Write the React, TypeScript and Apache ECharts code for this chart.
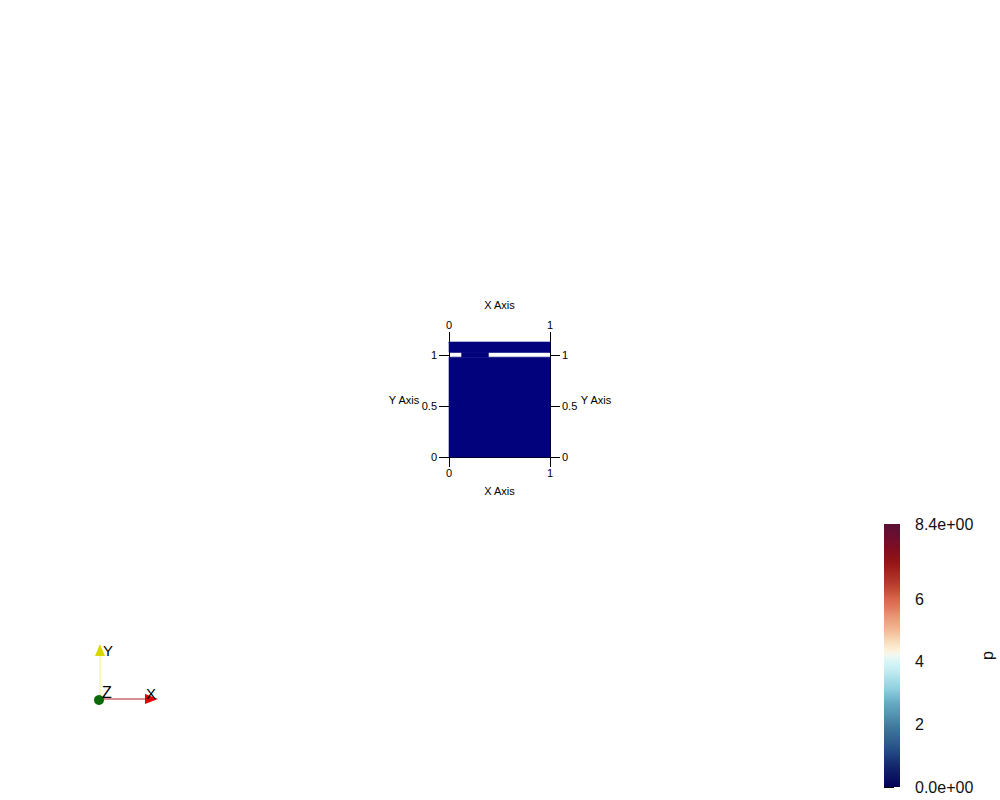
import React, { useEffect, useRef } from "react";
import * as echarts from "echarts";

// ---- Data ----
// Domain cells: [x0, x1, y0, y1, p]
const cellX0 = [0, 0.125, 0];
const cellX1 = [1, 0.39, 1];
const cellY0 = [0, 0.977, 1.023];
const cellY1 = [0.977, 1.023, 1.125];
const cellP = [0, 0, 0];

const xTicks = [0, 1];
const yTicks = [0, 0.5, 1];
const pMin = 0;
const pMax = 8.4;
const pTicks = [0, 2, 4, 6, 8.4];

// Cool to Warm (Extended) colour map stops: [position, colour]
const cmapStops: [number, string][] = [
  [0, "#000059"],
  [0.03125, "#0a1061"],
  [0.0625, "#101e69"],
  [0.09375, "#172f73"],
  [0.125, "#204380"],
  [0.15625, "#29568a"],
  [0.1875, "#336591"],
  [0.21875, "#3d7499"],
  [0.25, "#4985a6"],
  [0.28125, "#5697b3"],
  [0.3125, "#63a7bf"],
  [0.34375, "#77bcd1"],
  [0.375, "#92d1e0"],
  [0.40625, "#a7dde8"],
  [0.4375, "#c0eaf0"],
  [0.46875, "#d2f4f7"],
  [0.5, "#f0f8f2"],
  [0.52, "#fcf1d9"],
  [0.54, "#fae5c8"],
  [0.5625, "#f7d5b2"],
  [0.59375, "#f2bb96"],
  [0.625, "#eda682"],
  [0.65625, "#e8906f"],
  [0.6875, "#e0755a"],
  [0.71875, "#d66349"],
  [0.75, "#c24b36"],
  [0.78125, "#b3362b"],
  [0.8125, "#a62821"],
  [0.84375, "#991818"],
  [0.875, "#8c1119"],
  [0.90625, "#800d20"],
  [0.9375, "#730e2c"],
  [0.96875, "#660e31"],
  [1, "#591236"],
];

const DOMAIN_COLOR = "#02027c";
const FONT = "Liberation Sans";

export default function App() {
  const ref = useRef<HTMLDivElement>(null);

  useEffect(() => {
    if (!ref.current) return;
    const chart = echarts.init(ref.current, null, { renderer: "svg" });

    const cells = cellX0.map((x0, i) => [x0, cellX1[i], cellY0[i], cellY1[i], cellP[i]]);

    const axisCommon = {
      type: "value" as const,
      gridIndex: 0,
      nameMoveOverlap: false,
      splitLine: { show: false },
      axisLine: { show: true, onZero: false, lineStyle: { color: "#000", width: 1 } },
      axisTick: { show: true, length: 10, lineStyle: { color: "#000", width: 1 } },
      nameTextStyle: { fontFamily: FONT, fontSize: 11, color: "#000", align: "center", verticalAlign: "middle" },
    };

    const labelStyle = { fontFamily: FONT, fontSize: 11, color: "#000" };

    const gradient = new echarts.graphic.LinearGradient(
      0,
      1,
      0,
      0,
      cmapStops.map(([offset, color]) => ({ offset, color }))
    );

    const option: any = {
      animation: false,
      backgroundColor: "#ffffff",
      grid: [
        { left: 449, top: 342, width: 101, height: 115 },
        { left: 884, top: 524, width: 16, height: 263 },
      ],
      xAxis: [
        {
          ...axisCommon,
          position: "bottom",
          min: 0,
          max: 1,
          name: "X Axis",
          nameLocation: "middle",
          nameGap: 34,
          axisTick: { ...axisCommon.axisTick, customValues: xTicks },
          axisLabel: { ...labelStyle, margin: 10, customValues: xTicks, formatter: (v: number) => String(v) },
        },
        {
          ...axisCommon,
          position: "top",
          min: 0,
          max: 1,
          name: "X Axis",
          nameLocation: "middle",
          nameGap: 37,
          axisTick: { ...axisCommon.axisTick, customValues: xTicks },
          axisLabel: { ...labelStyle, margin: 12, customValues: xTicks, formatter: (v: number) => String(v) },
        },
        {
          type: "value",
          gridIndex: 1,
          min: 0,
          max: 1,
          show: false,
        },
      ],
      yAxis: [
        {
          ...axisCommon,
          position: "left",
          min: 0,
          max: 1.125,
          name: "Y Axis",
          nameLocation: "middle",
          nameRotate: 0,
          nameGap: 45,
          axisTick: { ...axisCommon.axisTick, customValues: yTicks },
          axisLabel: { ...labelStyle, margin: 12, customValues: yTicks, formatter: (v: number) => String(v) },
        },
        {
          ...axisCommon,
          position: "right",
          min: 0,
          max: 1.125,
          name: "Y Axis",
          nameLocation: "middle",
          nameRotate: 0,
          nameGap: 46,
          axisTick: { ...axisCommon.axisTick, customValues: yTicks },
          axisLabel: { ...labelStyle, margin: 12, customValues: yTicks, formatter: (v: number) => String(v) },
        },
        {
          type: "value",
          gridIndex: 1,
          position: "right",
          min: pMin,
          max: pMax,
          nameMoveOverlap: false,
          splitLine: { show: false },
          axisLine: { show: false },
          axisTick: { show: true, length: 10, customValues: pTicks, lineStyle: { color: "#000", width: 1 } },
          axisLabel: {
            fontFamily: FONT,
            fontSize: 16,
            color: "#111",
            margin: 15,
            customValues: pTicks,
            formatter: (v: number) => (v === pMin || v === pMax ? v.toExponential(1).replace(/e([+-])(\d)$/, "e$10$2") : String(v)),
          },
          name: "p",
          nameLocation: "middle",
          nameRotate: 90,
          nameGap: 87,
          nameTextStyle: { fontFamily: FONT, fontSize: 16, color: "#111", align: "center", verticalAlign: "middle" },
        },
      ],
      series: [
        {
          type: "custom",
          xAxisIndex: 0,
          yAxisIndex: 0,
          data: cells,
          encode: { x: [0, 1], y: [2, 3] },
          renderItem: (params: any, api: any) => {
            const a = api.coord([api.value(0), api.value(3)]);
            const b = api.coord([api.value(1), api.value(2)]);
            return {
              type: "rect",
              shape: { x: a[0], y: a[1], width: b[0] - a[0], height: b[1] - a[1] },
              style: { fill: DOMAIN_COLOR, stroke: DOMAIN_COLOR, lineWidth: 0.6 },
            };
          },
          z: 1,
        },
        {
          type: "custom",
          xAxisIndex: 2,
          yAxisIndex: 2,
          data: [[0, 1, pMin, pMax]],
          encode: { x: [0, 1], y: [2, 3] },
          renderItem: (params: any, api: any) => {
            const a = api.coord([api.value(0), api.value(3)]);
            const b = api.coord([api.value(1), api.value(2)]);
            return {
              type: "rect",
              shape: { x: a[0], y: a[1], width: b[0] - a[0], height: b[1] - a[1] },
              style: { fill: gradient, stroke: null },
            };
          },
        },
      ],
      graphic: [
        // orientation triad
        { type: "line", shape: { x1: 100, y1: 699, x2: 100, y2: 652 }, style: { stroke: "#f4f47a", lineWidth: 1 } },
        { type: "polygon", shape: { points: [[100, 644], [95, 656], [105, 656]] }, style: { fill: "#d8d800" } },
        { type: "line", shape: { x1: 100, y1: 699, x2: 148, y2: 699 }, style: { stroke: "#b02020", lineWidth: 1 } },
        { type: "polygon", shape: { points: [[158, 699], [145, 694], [145, 704]] }, style: { fill: "#e00000" } },
        { type: "circle", shape: { cx: 99, cy: 700, r: 5 }, style: { fill: "#0a6a0a" } },
        { type: "text", x: 103, y: 643, style: { text: "Y", fontFamily: FONT, fontSize: 15, fill: "#000" } },
        { type: "text", x: 146, y: 686, style: { text: "X", fontFamily: FONT, fontSize: 15, fill: "#000" } },
        { type: "text", x: 102, y: 684, style: { text: "Z", fontFamily: FONT, fontSize: 16, fill: "#000" } },
      ],
    };

    chart.setOption(option);
    return () => chart.dispose();
  }, []);

  return <div ref={ref} style={{ position: "absolute", left: 0, top: 0, width: 1000, height: 800 }} />;
}
